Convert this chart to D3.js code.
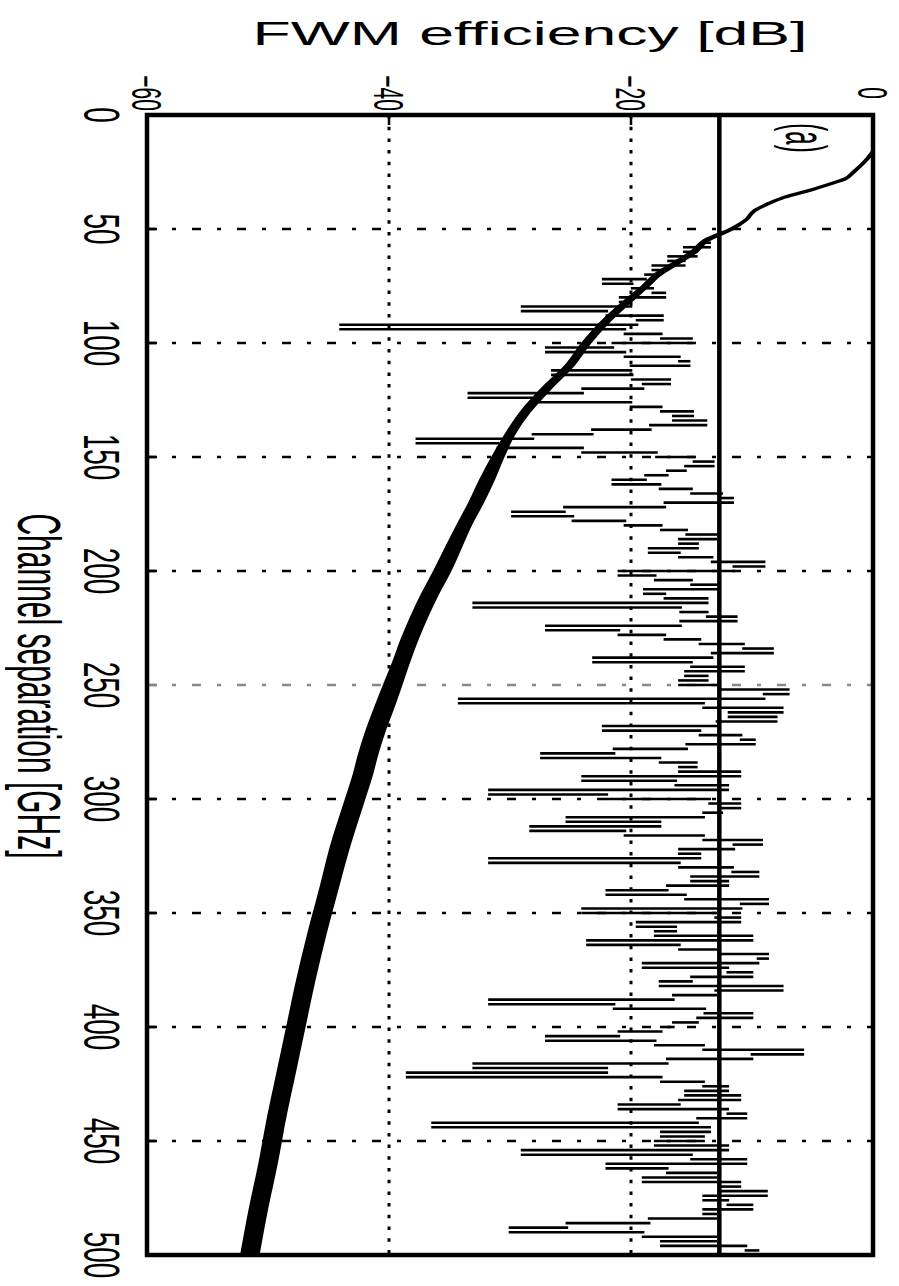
<!DOCTYPE html>
<html>
<head>
<meta charset="utf-8">
<script src="https://cdn.jsdelivr.net/npm/d3@7"></script>
<style>
body { margin: 0; background: #fff; }
svg { display: block; }
text { font-family: "Liberation Sans", Arial, sans-serif; fill: #000; }
</style>
</head>
<body>
<svg id="chart" width="899" height="1286"></svg>
<script>
/* FWM efficiency vs channel separation, drawn rotated like the scan */

const WIDTH = 899;
const HEIGHT = 1286;
const PLOT = {left: 147, right: 873, top: 115, bottom: 1255};

// axis ticks
const sepTicks = [0, 50, 100, 150, 200, 250, 300, 350, 400, 450, 500];
const effTicks = [-60, -40, -20, 0];
const effTickLabels = ["\u221260", "\u221240", "\u221220", "0"];
const effGrid = [-40, -20];
const threshold = -12.7;

// smooth (averaged) curve: centre and half thickness of the band, dB
const smoothGHz = [16, 20, 25, 28, 30, 33, 36, 39, 42, 46,
                   50, 55, 60, 65, 70, 75, 80, 90, 100, 110,
                   120, 130, 140, 150, 160, 170, 180, 190, 200, 210,
                   220, 230, 240, 250, 260, 270, 280, 290, 300, 320,
                   340, 360, 380, 400, 420, 440, 460, 480, 500];
const smoothMid = [0, -0.6, -1.6, -2.3, -3.4, -5.2, -7.3, -8.7, -9.8, -10.5,
                   -11.7, -13.8, -14.8, -16.3, -17.8, -18.8, -19.9, -22.0, -23.7, -25.1,
                   -27.0, -28.7, -30.0, -31.0, -31.9, -32.8, -33.8, -34.7, -35.6, -36.6,
                   -37.5, -38.3, -39.0, -39.7, -40.4, -41.1, -41.7, -42.2, -42.8, -44.0,
                   -45.0, -46.0, -46.9, -47.7, -48.5, -49.3, -50.0, -50.8, -51.5];
const smoothSpread = [0.05, 0.05, 0.05, 0.05, 0.05, 0.05, 0.05, 0.05, 0.05, 0.05,
                      0.1, 0.15, 0.2, 0.22, 0.22, 0.22, 0.25, 0.28, 0.28, 0.28,
                      0.32, 0.32, 0.32, 0.42, 0.52, 0.52, 0.52, 0.58, 0.62, 0.62,
                      0.62, 0.62, 0.62, 0.68, 0.72, 0.72, 0.72, 0.72, 0.72, 0.72,
                      0.68, 0.68, 0.68, 0.68, 0.68, 0.68, 0.68, 0.68, 0.68];

// single-shot (noisy) curve, every 2 GHz from 56 to 500 GHz, dB
const noiseGHz = d3.range(56, 501, 2);
const noiseDb = [
  -14.0, -13.5, -15.6, -14.6, -16.9, -15.6, -18.2, -17.6, -18.8, -22.3,   // 56
  -19.9, -18.2, -17.2, -20.9, -20.0, -29.0, -22.0, -17.4, -19.5, -44.0,   // 76
  -20.5, -17.5, -15.0, -21.5, -27.0, -20.5, -16.0, -15.2, -20.0, -26.5,   // 96
  -19.9, -16.8, -19.0, -24.0, -33.4, -27.8, -20.0, -17.5, -14.9, -16.5,   // 116
  -13.8, -18.4, -23.2, -28.1, -37.7, -31.0, -24.0, -17.9, -14.8, -13.2,   // 136
  -15.5, -17.0, -18.8, -21.5, -17.6, -15.0, -12.5, -11.6, -17.2, -25.5,   // 156
  -29.8, -24.8, -20.5, -17.5, -15.4, -13.0, -16.0, -14.5, -18.5, -16.0,   // 176
  -13.3, -9.0, -11.5, -21.0, -18.0, -15.0, -12.9, -18.9, -17.2, -13.7,    // 196
  -33.0, -15.9, -13.7, -11.3, -15.9, -27.0, -21.0, -17.2, -14.3, -10.7,   // 216
  -8.3, -13.3, -23.1, -15.0, -10.7, -15.5, -13.7, -16.0, -12.7, -7.0,     // 236
  -9.0, -34.2, -14.0, -7.5, -11.9, -8.0, -12.9, -22.3, -14.3, -10.9,      // 256
  -9.8, -15.4, -21.4, -27.4, -17.6, -14.6, -16.0, -11.0, -24.0, -16.3,    // 276
  -12.0, -31.7, -22.0, -13.5, -11.0, -12.5, -14.0, -25.3, -17.6, -28.3,   // 296
  -20.5, -14.0, -9.2, -11.5, -16.0, -14.3, -31.7, -16.0, -11.6, -9.5,     // 316
  -15.0, -12.0, -17.0, -22.0, -15.5, -8.7, -10.9, -24.0, -13.0, -11.0,    // 336
  -19.5, -16.3, -18.0, -10.0, -23.6, -16.0, -12.7, -8.7, -9.5, -19.0,     // 356
  -12.0, -10.0, -15.0, -17.6, -7.5, -13.0, -16.5, -31.7, -21.4, -13.9,    // 376
  -10.0, -14.5, -16.5, -17.5, -21.0, -27.0, -18.0, -14.0, -5.8, -10.0,    // 396
  -17.0, -33.0, -22.0, -38.5, -17.5, -14.0, -12.0, -15.5, -11.0, -16.0,   // 416
  -21.0, -12.0, -10.5, -14.5, -36.4, -13.5, -17.5, -14.0, -18.0, -12.0,   // 436
  -29.0, -15.0, -10.5, -22.0, -17.0, -13.0, -19.0, -11.0, -12.5, -8.8,    // 456
  -14.0, -12.0, -10.0, -14.0, -13.0, -18.5, -25.3, -30.0, -19.0, -13.0,   // 476
  -17.5, -10.5, -9.5                                                      // 496
];

const svg = d3.select("#chart");
svg.append("rect").attr("width", WIDTH).attr("height", HEIGHT).attr("fill", "#fff");

// dB runs left to right, GHz runs top to bottom
const x = d3.scaleLinear().domain([-60, 0]).range([PLOT.left, PLOT.right]);
const y = d3.scaleLinear().domain([0, 500]).range([PLOT.top, PLOT.bottom]);

// horizontal dash-dot grid at each 50 GHz
svg.append("g")
  .selectAll("line")
  .data(sepTicks.filter(d => d > 0 && d < 500))
  .enter()
  .append("line")
  .attr("x1", PLOT.left).attr("x2", PLOT.right)
  .attr("y1", d => y(d)).attr("y2", d => y(d))
  .attr("stroke", d => d == 250 ? "#888" : "#000")
  .attr("stroke-width", 2.5)
  .attr("stroke-dasharray", "9,16,4,16");

// vertical dotted grid
svg.append("g")
  .selectAll("line")
  .data(effGrid)
  .enter()
  .append("line")
  .attr("x1", d => x(d)).attr("x2", d => x(d))
  .attr("y1", PLOT.top).attr("y2", PLOT.bottom)
  .attr("stroke", "#000")
  .attr("stroke-width", 3)
  .attr("stroke-dasharray", "3.5,8.2");

// tick marks
svg.append("g")
  .selectAll("line")
  .data(sepTicks)
  .enter()
  .append("line")
  .attr("x1", PLOT.left).attr("x2", PLOT.left + 10)
  .attr("y1", d => y(d)).attr("y2", d => y(d))
  .attr("stroke", d => d == 250 ? "#888" : "#000")
  .attr("stroke-width", 2.5);
svg.append("g")
  .selectAll("line")
  .data(effTicks)
  .enter()
  .append("line")
  .attr("x1", d => x(d)).attr("x2", d => x(d))
  .attr("y1", PLOT.top).attr("y2", PLOT.top + 10)
  .attr("stroke", "#000")
  .attr("stroke-width", 2.5);

// noisy curve: each step drawn as a horizontal stroke, like the scan
const noisePts = noiseGHz.map((f, i) => ({f: f, v: noiseDb[i]}));
svg.append("g")
  .selectAll("line")
  .data(d3.pairs(noisePts))
  .enter()
  .append("line")
  .attr("x1", d => x(d[0].v))
  .attr("x2", d => x(d[1].v))
  .attr("y1", d => y(d[0].f))
  .attr("y2", d => y(d[0].f))
  .attr("stroke", "#000")
  .attr("stroke-width", 2.6)
  .attr("stroke-linecap", "square");

// smooth curve as a band with an outline so the flat top part keeps its weight
const smoothPts = smoothGHz.map((f, i) => ({f: f, mid: smoothMid[i], s: smoothSpread[i]}));
const band = d3.area()
  .y(d => y(d.f))
  .x0(d => x(d.mid - d.s))
  .x1(d => x(d.mid + d.s))
  .curve(d3.curveMonotoneY);
svg.append("path")
  .datum(smoothPts)
  .attr("d", band)
  .attr("fill", "#000")
  .attr("stroke", "#000")
  .attr("stroke-width", 3)
  .attr("stroke-linejoin", "round");

// threshold line
svg.append("line")
  .attr("x1", x(threshold)).attr("x2", x(threshold))
  .attr("y1", PLOT.top).attr("y2", PLOT.bottom)
  .attr("stroke", "#000")
  .attr("stroke-width", 4.5);

// frame
svg.append("rect")
  .attr("x", PLOT.left).attr("y", PLOT.top)
  .attr("width", PLOT.right - PLOT.left)
  .attr("height", PLOT.bottom - PLOT.top)
  .attr("fill", "none")
  .attr("stroke", "#000")
  .attr("stroke-width", 4.5);

// tick labels, rotated a quarter turn and stretched sideways
svg.append("g")
  .selectAll("text")
  .data(sepTicks)
  .enter()
  .append("text")
  .attr("transform", d => `translate(84,${y(d)}) scale(1.8,1) rotate(90)`)
  .attr("text-anchor", "middle")
  .attr("font-size", 28)
  .text(d => d);

svg.append("g")
  .selectAll("text")
  .data(effTicks)
  .enter()
  .append("text")
  .attr("transform", d => `translate(${x(d) - 15},93) scale(2.0,1) rotate(90)`)
  .attr("text-anchor", "middle")
  .attr("font-size", 21)
  .text((d, i) => effTickLabels[i]);

// axis titles
svg.append("text")
  .attr("transform", "translate(530,45) scale(1.84,1)")
  .attr("text-anchor", "middle")
  .attr("font-size", 34)
  .text("FWM efficiency [dB]");

svg.append("text")
  .attr("transform", "translate(18,686) scale(2.03,1) rotate(90)")
  .attr("text-anchor", "middle")
  .attr("font-size", 30)
  .text("Channel separation [GHz]");

// panel tag
svg.append("text")
  .attr("transform", "translate(786,138) scale(2.4,1) rotate(90)")
  .attr("text-anchor", "middle")
  .attr("font-size", 24)
  .text("(a)");
</script>
</body>
</html>
